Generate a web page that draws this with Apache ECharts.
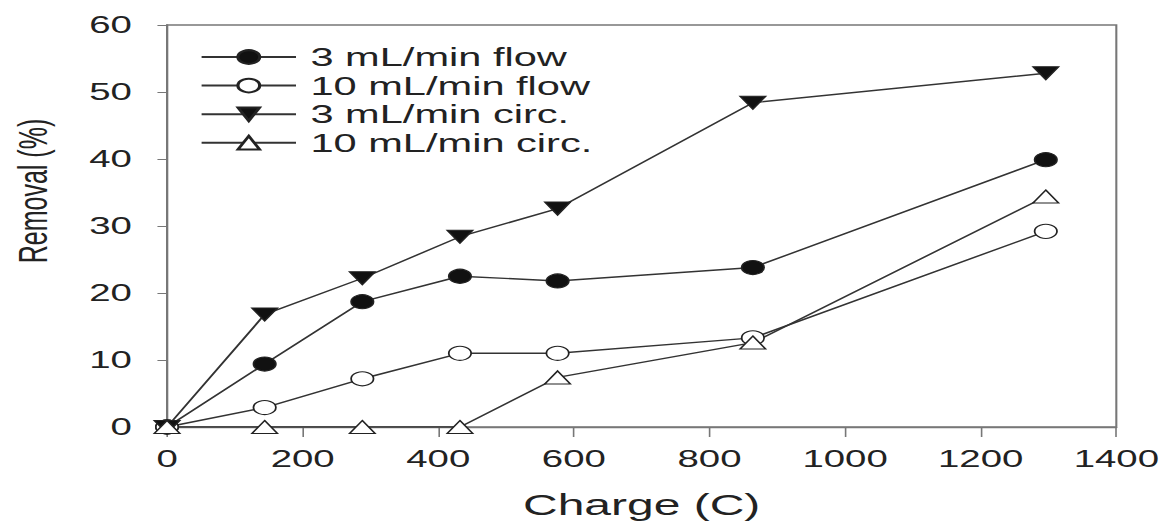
<!DOCTYPE html>
<html>
<head>
<meta charset="utf-8">
<script src="https://cdn.jsdelivr.net/npm/echarts@6/dist/echarts.min.js"></script>
<style>
  html, body { margin: 0; padding: 0; background: #fff; overflow: hidden; }
  /* the reference is stretched sideways, so draw narrow and widen it */
  #chart { width: 729.375px; height: 525px; transform: scaleX(1.6); transform-origin: 0 0; }
</style>
</head>
<body>
<div id="chart"></div>
<script>
var charge = [0, 144, 288, 432, 576, 864, 1296];
var flow3 = [0, 9.4, 18.7, 22.5, 21.8, 23.8, 39.9];
var flow10 = [0, 2.9, 7.2, 11.0, 11.0, 13.3, 29.2];
var circ3 = [0, 16.8, 22.2, 28.4, 32.6, 48.4, 52.8];
var circ10 = [0, 0, 0, 0, 7.4, 12.6, 34.4];
var seriesNames = ['3 mL/min flow', '10 mL/min flow', '3 mL/min circ.', '10 mL/min circ.'];

function pairs(ys) {
  return charge.map(function (c, i) { return [c, ys[i]]; });
}

var font = "'Liberation Sans', Arial, sans-serif";
var downTri = 'path://M0,0L10,0L5,9Z';
var upTri = 'path://M5,0L10,9L0,9Z';

function line(name, ys, symbol, size, filled) {
  return {
    type: 'line',
    name: name,
    data: pairs(ys),
    symbol: symbol,
    symbolSize: size,
    showAllSymbol: true,
    lineStyle: { color: '#333', width: 1.4 },
    itemStyle: { color: filled ? '#111' : '#fff', borderColor: '#222', borderWidth: 1.1 },
    emphasis: { disabled: true },
    animation: false
  };
}

var myChart = echarts.init(document.getElementById('chart'), null, { renderer: 'svg' });
var option = {
  grid: {
    left: 104.4, right: 31.3, top: 25, bottom: 95,
    show: true, borderColor: '#777', borderWidth: 1.3
  },
  legend: {
    orient: 'vertical',
    left: 120, top: 39,
    itemWidth: 59, itemHeight: 17, itemGap: 2.6,
    data: seriesNames,
    textStyle: { fontFamily: font, fontSize: 26, lineHeight: 17, color: '#222', padding: [0, 0, 0, 4] }
  },
  xAxis: {
    type: 'value', min: 0, max: 1400, interval: 200,
    name: 'Charge (C)', nameLocation: 'middle', nameGap: 63,
    nameTextStyle: { fontFamily: font, fontSize: 30, color: '#222' },
    axisLine: { show: true, lineStyle: { color: '#777', width: 1.3 } },
    axisTick: { show: true, inside: false, length: 10, lineStyle: { color: '#777', width: 1 } },
    axisLabel: {
      fontFamily: font, fontSize: 24, color: '#222', margin: 20,
      formatter: function (v) { return String(v); }
    },
    splitLine: { show: false }
  },
  yAxis: {
    type: 'value', min: 0, max: 60, interval: 10,
    name: 'Removal (%)', nameLocation: 'middle', nameGap: 71,
    nameTextStyle: { fontFamily: font, fontSize: 25, color: '#222', padding: [0, 0, 0, 70] },
    axisLine: { show: true, lineStyle: { color: '#777', width: 1.3 } },
    axisTick: { show: true, inside: false, length: 6, lineStyle: { color: '#777', width: 1 } },
    axisLabel: { fontFamily: font, fontSize: 24, color: '#222', margin: 22 },
    splitLine: { show: false }
  },
  series: [
    line(seriesNames[0], flow3, 'circle', 14, true),
    line(seriesNames[1], flow10, 'circle', 14, false),
    line(seriesNames[2], circ3, downTri, [16, 13], true),
    line(seriesNames[3], circ10, upTri, [16, 13], false)
  ]
};
myChart.setOption(option);
</script>
</body>
</html>
